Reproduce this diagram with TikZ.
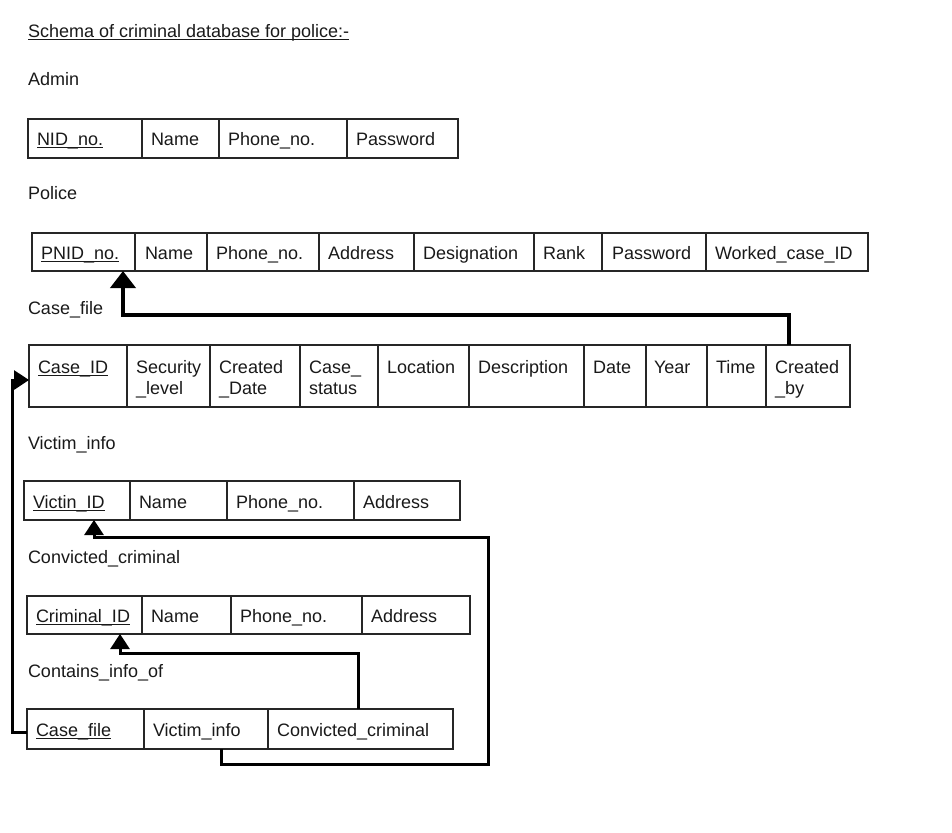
\documentclass[tikz,border=0pt]{standalone}
\usepackage{fontspec}
\setmainfont{Liberation Sans}
\usetikzlibrary{arrows.meta}
\tikzset{
  cellbox/.style={draw=black!85, line width=1.3pt, inner sep=0pt, outer sep=0pt, anchor=north west},
  txt/.style={inner sep=0pt, outer sep=0pt, anchor=base west, text=black!90, font=\fontsize{18}{21}\selectfont},
  uline/.style={line width=1pt, black!90},
  bigconn/.style={line width=3.8pt, -{Triangle[width=25pt,length=17pt]}},
  conn/.style={line width=3pt, -{Triangle[width=19pt,length=15pt]}},
}
% \cellr{name}{x1}{y1}{x2}{y2}
\newcommand{\cellr}[5]{\node[cellbox, minimum width={(#4-#2)*1pt}, minimum height={(#5-#3)*1pt}] (#1) at (#2,#3) {};}
\newcommand{\ul}[1]{\draw[uline] ([yshift=-2pt]#1.base west) -- ([yshift=-2pt]#1.base east);}
\begin{document}
\begin{tikzpicture}[x=1pt,y=-1pt]
\useasboundingbox (0,0) rectangle (952,832);

% Title
\node[txt] (title) at (28,38) {Schema of criminal database for police:-};
\ul{title}

% Admin
\node[txt] (ladmin) at (28,86) {Admin};
\cellr{a1}{28}{119}{142}{158}
\cellr{a2}{142}{119}{219}{158}
\cellr{a3}{219}{119}{347}{158}
\cellr{a4}{347}{119}{458}{158}
\node[txt] (a1t) at (37,145) {NID\_no.}; \ul{a1t}
\node[txt] (a2t) at (151,145) {Name};
\node[txt] (a3t) at (228,145) {Phone\_no.};
\node[txt] (a4t) at (356,145) {Password};

% Police
\node[txt] (lpolice) at (28,199) {Police};
\cellr{p1}{32}{233}{135}{271}
\cellr{p2}{135}{233}{207}{271}
\cellr{p3}{207}{233}{319}{271}
\cellr{p4}{319}{233}{414}{271}
\cellr{p5}{414}{233}{534}{271}
\cellr{p6}{534}{233}{602}{271}
\cellr{p7}{602}{233}{706}{271}
\cellr{p8}{706}{233}{868}{271}
\node[txt] (p1t) at (41,259) {PNID\_no.}; \ul{p1t}
\node[txt] (p2t) at (145,259) {Name};
\node[txt] (p3t) at (216,259) {Phone\_no.};
\node[txt] (p4t) at (328,259) {Address};
\node[txt] (p5t) at (423,259) {Designation};
\node[txt] (p6t) at (543,259) {Rank};
\node[txt] (p7t) at (612,259) {Password};
\node[txt] (p8t) at (715,259) {Worked\_case\_ID};

% Case_file
\node[txt] (lcase) at (28,314) {Case\_file};
\cellr{cf1}{29}{345}{127}{407}
\cellr{cf2}{127}{345}{210}{407}
\cellr{cf3}{210}{345}{300}{407}
\cellr{cf4}{300}{345}{378}{407}
\cellr{cf5}{378}{345}{469}{407}
\cellr{cf6}{469}{345}{584}{407}
\cellr{cf7}{584}{345}{646}{407}
\cellr{cf8}{646}{345}{707}{407}
\cellr{cf9}{707}{345}{766}{407}
\cellr{cf10}{766}{345}{850}{407}
\node[txt] (cf1t) at (38,373) {Case\_ID}; \ul{cf1t}
\node[txt] (cf2t) at (136,373) {Security};
\node[txt] (cf2u) at (136,394) {\_level};
\node[txt] (cf3t) at (219,373) {Created};
\node[txt] (cf3u) at (219,394) {\_Date};
\node[txt] (cf4t) at (309,373) {Case\_};
\node[txt] (cf4u) at (309,394) {status};
\node[txt] (cf5t) at (387,373) {Location};
\node[txt] (cf6t) at (478,373) {Description};
\node[txt] (cf7t) at (593,373) {Date};
\node[txt] (cf8t) at (654,373) {Year};
\node[txt] (cf9t) at (716,373) {Time};
\node[txt] (cf10t) at (775,373) {Created};
\node[txt] (cf10u) at (775,394) {\_by};

% Victim_info
\node[txt] (lvictim) at (28,449) {Victim\_info};
\cellr{v1}{24}{481}{130}{520}
\cellr{v2}{130}{481}{227}{520}
\cellr{v3}{227}{481}{354}{520}
\cellr{v4}{354}{481}{460}{520}
\node[txt] (v1t) at (33,508) {Victin\_ID}; \ul{v1t}
\node[txt] (v2t) at (139,508) {Name};
\node[txt] (v3t) at (236,508) {Phone\_no.};
\node[txt] (v4t) at (363,508) {Address};

% Convicted_criminal
\node[txt] (lcrim) at (28,563) {Convicted\_criminal};
\cellr{cr1}{27}{596}{142}{634}
\cellr{cr2}{142}{596}{231}{634}
\cellr{cr3}{231}{596}{362}{634}
\cellr{cr4}{362}{596}{470}{634}
\node[txt] (cr1t) at (36,622) {Criminal\_ID}; \ul{cr1t}
\node[txt] (cr2t) at (151,622) {Name};
\node[txt] (cr3t) at (240,622) {Phone\_no.};
\node[txt] (cr4t) at (371,622) {Address};

% Contains_info_of
\node[txt] (lcont) at (28,677) {Contains\_info\_of};
\cellr{ct1}{27}{709}{144}{749}
\cellr{ct2}{144}{709}{268}{749}
\cellr{ct3}{268}{709}{453}{749}
\node[txt] (ct1t) at (36,736) {Case\_file}; \ul{ct1t}
\node[txt] (ct2t) at (153,736) {Victim\_info};
\node[txt] (ct3t) at (277,736) {Convicted\_criminal};

% Connectors
\coordinate (a1c) at (789,315);
\coordinate (a2c) at (123,315);
\draw[bigconn] (a1c |- cf10.north) -- (a1c) -- (a2c) -- (a2c |- p1.south);

\coordinate (b1) at (12,732);
\coordinate (b2) at (12,380);
\draw[conn] (ct1.west |- b1) -- (b1) -- (b2) -- (b2 -| cf1.west);

\coordinate (c1) at (221,764);
\coordinate (c2) at (488,764);
\coordinate (c3) at (488,537);
\coordinate (c4) at (94,537);
\draw[conn] (c1 |- ct2.south) -- (c1) -- (c2) -- (c3) -- (c4) -- (c4 |- v1.south);

\coordinate (d1) at (358,653);
\coordinate (d2) at (120,653);
\draw[conn] (d1 |- ct3.north) -- (d1) -- (d2) -- (d2 |- cr1.south);
\end{tikzpicture}
\end{document}
